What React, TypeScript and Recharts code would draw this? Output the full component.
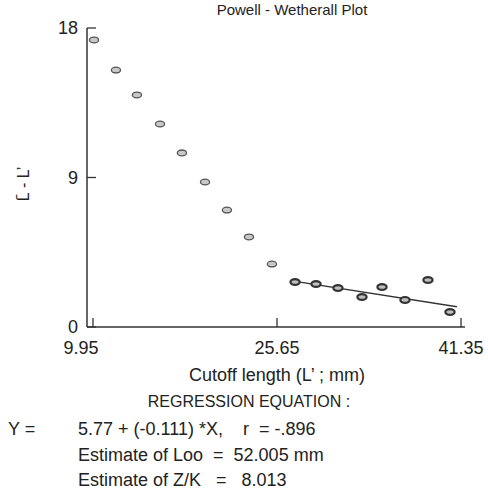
import React from "react";
import { ScatterChart, Scatter, XAxis, YAxis } from "recharts";

// cutoff lengths L' (mm) and mean length minus cutoff (L̄ - L')
const cutoffAll = [10.04, 11.91, 13.7, 15.67, 17.54, 19.51, 21.38, 23.26, 25.22];
const diffAll = [17.28, 15.47, 13.97, 12.22, 10.48, 8.73, 7.04, 5.42, 3.79];
const cutoffReg = [27.19, 28.98, 30.85, 32.9, 34.61, 36.57, 38.53, 40.41];
const diffReg = [2.71, 2.59, 2.35, 1.81, 2.41, 1.63, 2.83, 0.9];
// fitted line ends
const lineX = [27.19, 41.0];
const lineY = [2.75, 1.22];
const xTicks = [9.95, 25.65, 41.35];
const yTicks = [0, 9, 18];

const allPts = cutoffAll.map((x, i) => ({ x, y: diffAll[i] }));
const regPts = cutoffReg.map((x, i) => ({ x, y: diffReg[i] }));
const linePts = lineX.map((x, i) => ({ x, y: lineY[i] }));

const FONT = "'Liberation Sans', Arial, sans-serif";
const INK = "#222";
const AXIS = "#333";
const FS = 18;

const Dot = (stroke: string, sw: number, fill: string) => (p: any) =>
  <ellipse cx={p.cx} cy={p.cy} rx={4.6} ry={2.9} fill={fill} stroke={stroke} strokeWidth={sw} />;

const YTick = (p: any) => (
  <g>
    <line x1={p.x} x2={p.x + 9} y1={p.y} y2={p.y} stroke={AXIS} strokeWidth={1.3} />
    <text x={p.x - 9} y={p.y} dy="0.36em" textAnchor="end" fontSize={FS} fill={INK} fontFamily={FONT}>
      {p.payload.value}
    </text>
  </g>
);

const XTick = (p: any) => (
  <g>
    <line x1={p.x} x2={p.x} y1={p.y} y2={p.y - 9} stroke={AXIS} strokeWidth={1.3} />
    <text x={p.x + (p.index === 0 ? -12 : 0)} y={p.y + 27} textAnchor="middle" fontSize={FS} fill={INK} fontFamily={FONT}>
      {p.payload.value.toFixed(2)}
    </text>
  </g>
);

export default function App() {
  const t = { fontSize: FS, fill: INK, fontFamily: FONT, whiteSpace: "pre" } as React.CSSProperties;
  return (
    <div style={{ position: "relative", width: 488, height: 490, background: "#fff" }}>
      <style>{"body{margin:0}"}</style>
      <ScatterChart width={488} height={360} margin={{ top: 28, right: 23, bottom: 3, left: 0 }}>
        <XAxis type="number" dataKey="x" domain={[9.44, 41.69]} ticks={xTicks} allowDataOverflow height={30}
          axisLine={{ stroke: AXIS, strokeWidth: 1.5 }} tickLine={false} tickSize={0} tickMargin={0} tick={XTick} />
        <YAxis type="number" dataKey="y" domain={[0, 18]} ticks={yTicks} width={87}
          axisLine={{ stroke: AXIS, strokeWidth: 1.5 }} tickLine={false} tickSize={0} tickMargin={0} tick={YTick} />
        <Scatter data={linePts} line={{ stroke: "#333", strokeWidth: 1.3 }} shape={() => <g />} isAnimationActive={false} />
        <Scatter data={allPts} shape={Dot("#555", 1.3, "#c8c8c8")} isAnimationActive={false} />
        <Scatter data={regPts} shape={Dot("#333", 2.2, "#bdbdbd")} isAnimationActive={false} />
      </ScatterChart>
      <svg width={488} height={490} style={{ position: "absolute", left: 0, top: 0, pointerEvents: "none" }}>
        <text x={292} y={15} textAnchor="middle" style={{ ...t, fontSize: 15 }}>Powell - Wetherall Plot</text>
        <text x={29} y={184} textAnchor="middle" transform="rotate(-90 29 184)" style={{ ...t, fontSize: 16 }}>
          {"L\u0304 - L\u2019"}
        </text>
        <text x={277} y={381} textAnchor="middle" style={t}>{"Cutoff length (L\u2019 ; mm)"}</text>
        <text x={249} y={407} textAnchor="middle" style={{ ...t, fontSize: 16 }}>REGRESSION EQUATION :</text>
        <text x={8} y={435} style={t}>Y =</text>
        <text x={78} y={435} style={t}>{"5.77 + (-0.111) *X,    r  = -.896"}</text>
        <text x={78} y={461} style={t}>{"Estimate of Loo  =  52.005 mm"}</text>
        <text x={78} y={486} style={t}>{"Estimate of Z/K   =   8.013"}</text>
      </svg>
    </div>
  );
}
